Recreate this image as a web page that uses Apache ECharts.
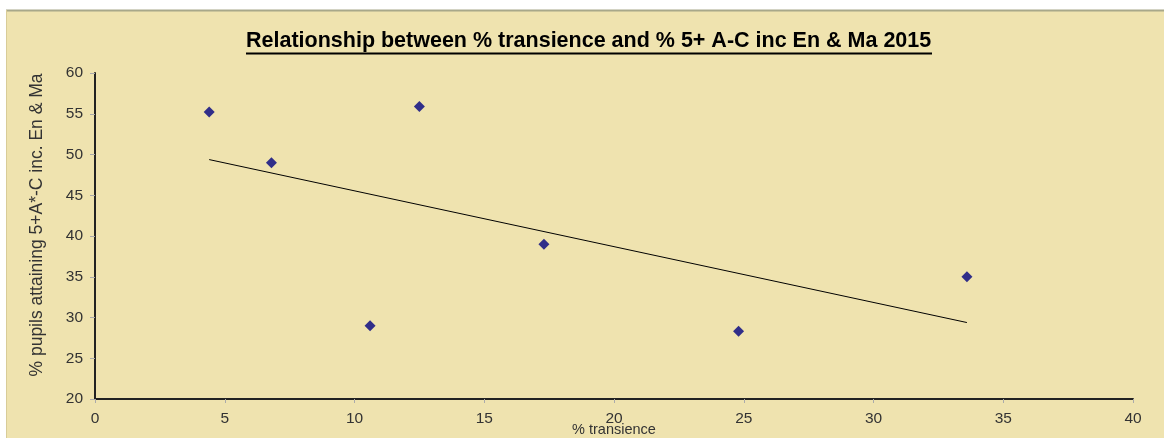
<!DOCTYPE html>
<html>
<head>
<meta charset="utf-8">
<title>Relationship between % transience and % 5+ A-C inc En & Ma 2015</title>
<script src="https://cdn.jsdelivr.net/npm/echarts@6/dist/echarts.min.js"></script>
<style>
    html, body { margin: 0; padding: 0; background: #ffffff; overflow: hidden; }
    #chart { width: 1164px; height: 438px; }
</style>
</head>
<body>
<div id="chart"></div>
<script>
// values
const transience = [4.4, 6.8, 10.6, 12.5, 17.3, 24.8, 33.6];
const attaining = [55.2, 49.0, 29.0, 55.9, 39.0, 28.3, 35.0];
const xTicks = [0, 5, 10, 15, 20, 25, 30, 35, 40];
const yTicks = [20, 25, 30, 35, 40, 45, 50, 55, 60];

const points = transience.map((x, i) => [x, attaining[i]]);

// least squares trend line, drawn across the range of the data
function linearTrend(xs, ys) {
    const n = xs.length;
    const mx = xs.reduce((a, b) => a + b, 0) / n;
    const my = ys.reduce((a, b) => a + b, 0) / n;
    let sxy = 0, sxx = 0;
    for (let i = 0; i < n; i++) {
        sxy += (xs[i] - mx) * (ys[i] - my);
        sxx += (xs[i] - mx) * (xs[i] - mx);
    }
    const slope = sxy / sxx;
    const x0 = Math.min(...xs), x1 = Math.max(...xs);
    return [
        [x0, my + slope * (x0 - mx)],
        [x1, my + slope * (x1 - mx)],
    ];
}
const trend = linearTrend(transience, attaining);

const chart = echarts.init(document.getElementById("chart"), null, { renderer: "canvas" });

const font = "Arial, 'Liberation Sans', sans-serif";

chart.setOption({
    animation: false,
    backgroundColor: "#ffffff",
    textStyle: { fontFamily: font },
    title: {
        text: "Relationship between % transience and % 5+ A-C inc En & Ma 2015",
        left: 241,
        top: 25,
        textStyle: { fontSize: 21.5, fontWeight: "bold", color: "#000000", fontFamily: font },
    },
    graphic: [
        {
            type: "rect",
            z: -10,
            shape: { x: 6, y: 10, width: 1164, height: 440 },
            style: { fill: "#EFE3AF" },
        },
        {
            type: "line",
            z: -9,
            shape: { x1: 6, y1: 10.5, x2: 1164, y2: 10.5 },
            style: { stroke: "#A8A88A", lineWidth: 2 },
        },
        {
            type: "line",
            z: -9,
            shape: { x1: 6.5, y1: 10, x2: 6.5, y2: 438 },
            style: { stroke: "#D8CC98", lineWidth: 1 },
        },
        {
            type: "line",
            shape: { x1: 246, y1: 53.5, x2: 932, y2: 53.5 },
            style: { stroke: "#000000", lineWidth: 2 },
        },
    ],
    grid: { left: 95, right: 31, top: 73, bottom: 39, containLabel: false, outerBoundsMode: "none" },
    xAxis: {
        type: "value",
        min: xTicks[0],
        max: xTicks[xTicks.length - 1],
        interval: 5,
        name: "% transience",
        nameLocation: "middle",
        nameGap: 23,
        nameMoveOverlap: false,
        nameTextStyle: { fontSize: 14.5, color: "#333333" },
        axisLine: { lineStyle: { color: "#222222", width: 2 } },
        axisTick: { show: true, length: 4, lineStyle: { color: "#aaaaaa" } },
        axisLabel: { fontSize: 15.5, color: "#333333", margin: 12 },
        splitLine: { show: false },
    },
    yAxis: {
        type: "value",
        min: yTicks[0],
        max: yTicks[yTicks.length - 1],
        interval: 5,
        name: "% pupils attaining 5+A*-C inc. En & Ma",
        nameLocation: "middle",
        nameGap: 49,
        nameRotate: 90,
        nameTextStyle: { fontSize: 17.5, color: "#333333", padding: [0, 0, 0, 22] },
        axisLine: { show: true, lineStyle: { color: "#222222", width: 2 } },
        axisTick: { show: true, length: 5, lineStyle: { color: "#aaaaaa" } },
        axisLabel: { fontSize: 15.5, color: "#333333", margin: 12 },
        splitLine: { show: false },
    },
    series: [
        {
            name: "trend",
            type: "line",
            data: trend,
            symbol: "none",
            lineStyle: { color: "#000000", width: 1 },
            z: 2,
        },
        {
            name: "schools",
            type: "scatter",
            data: points,
            symbol: "diamond",
            symbolSize: 11,
            itemStyle: { color: "#000080" },
            z: 3,
        },
    ],
});
</script>
</body>
</html>
